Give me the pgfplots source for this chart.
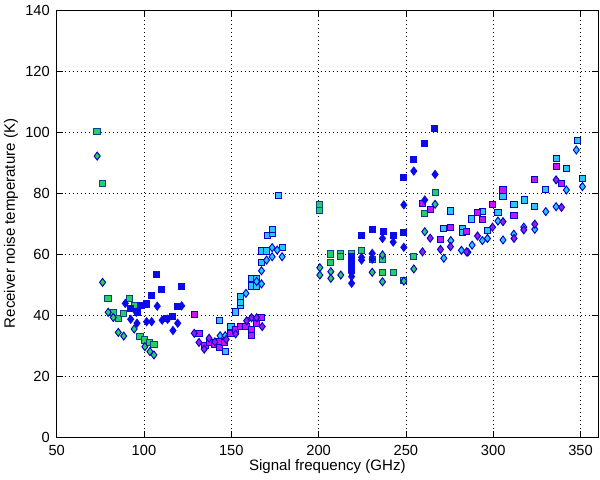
\documentclass[border=0pt]{standalone}
\usepackage{pgfplots}
\pgfplotsset{compat=1.18}
\usepackage{fontspec}
\setmainfont{Liberation Sans}
\definecolor{bfill}{RGB}{10,10,235}
\definecolor{bedge}{RGB}{0,0,200}
\definecolor{cfill}{RGB}{40,200,250}
\definecolor{gfill}{RGB}{40,205,100}
\definecolor{gedge}{RGB}{0,70,140}
\definecolor{mfill}{RGB}{200,20,245}
\definecolor{mdfill}{RGB}{150,30,235}
\begin{document}
\begin{tikzpicture}
\begin{axis}[
  scale only axis, width=406pt, height=320.25pt,
  xmin=50, xmax=360, ymin=0, ymax=140,
  xtick={50,100,...,350}, ytick={0,20,...,140},
  grid=major,
  major grid style={black, line width=0.5pt, dash pattern=on 0.7pt off 2.3pt},
  tick align=inside, major tick length=4.5pt,
  tick style={black, line width=0.6pt},
  axis line style={black, line width=0.6pt},
  /pgf/number format/assume math mode=true,
  tick label style={font=\fontsize{11}{13}\selectfont},
  xticklabel style={inner sep=0pt, yshift=-6pt},
  yticklabel style={inner sep=0pt, xshift=-5pt},
  label style={font=\fontsize{11.3}{13}\selectfont, inner sep=0pt},
  xlabel={Signal frequency (GHz)},
  ylabel={Receiver noise temperature (K)},
  xlabel style={at={(axis description cs:0.5,-0.0775)}, anchor=base},
  ylabel style={at={(axis description cs:-0.0771,0.5)}, anchor=base},
  sq/.style={only marks, mark=square*, mark size=2.3pt},
  di/.style={only marks, mark=diamond*, mark size=3.0pt},
]
\coordinate (sw) at (rel axis cs:0,0);
\coordinate (ne) at (rel axis cs:1,1);
% green squares
\addplot[sq, mark options={fill=gfill, draw=gedge, line width=0.7pt}] coordinates {
(73.1,100.3) (76.3,83.0) (79.4,45.5) (82.4,40.9) (85.5,38.9) (88.5,40.5) (91.6,45.3) (94.8,43.0) (97.7,33.1) (100.5,31.8) (103.0,30.9) (105.7,30.3)
(200.7,76.1) (200.7,74.3) (207.0,60.0) (207.0,57.1) (212.7,60.2) (212.7,59.1) (218.9,60.2) (224.6,61.1) (230.7,58.3) (236.6,58.3) (236.6,54.0) (242.7,54.0) (248.8,51.3) (254.5,59.1) (260.8,73.3) (266.7,80.1)
};
% green diamonds
\addplot[di, mark options={fill=gfill, draw=bedge, line width=0.7pt}] coordinates {
(73.2,92.1) (76.3,50.7) (79.5,40.9) (82.4,39.2) (85.3,34.3) (88.4,33.1) (94.4,35.4) (100.5,29.6) (103.4,28.0) (105.7,26.9)
(200.7,55.5) (200.7,53.1) (207.0,54.2) (207.0,52.0) (212.7,53.1) (230.7,54.0) (236.6,59.7) (236.6,50.9) (248.8,51.1) (254.5,55.1) (260.8,67.3) (266.7,76.3)
};
% cyan squares
\addplot[sq, mark options={fill=cfill, draw=bedge, line width=0.7pt}] coordinates {
(143.3,38.1) (146.9,28.0) (149.8,36.2) (152.5,41.0) (155.5,43.0) (155.5,44.2) (155.5,46.0) (161.6,49.5) (161.6,52.0) (164.5,49.5) (164.5,52.0) (167.3,57.1) (167.3,61.0) (170.2,61.0) (179.1,62.1) (170.5,66.2) (173.6,66.8) (173.6,68.1) (176.8,79.1)
(271.7,68.3) (275.5,74.1) (282.2,68.3) (282.2,67.2) (287.6,71.5) (293.8,73.9) (296.7,67.6) (302.7,73.5) (305.6,78.8) (311.9,76.3) (318.1,77.7) (323.8,75.7) (330.1,81.2) (336.0,91.2) (341.9,88.1) (348.0,97.1) (351.1,84.7)
};
% cyan diamonds
\addplot[di, mark options={fill=cfill, draw=bedge, line width=0.7pt}] coordinates {
(143.6,33.2) (146.5,33.2) (158.4,47.1) (164.5,51.0) (167.3,50.2) (167.3,54.5) (170.2,58.0) (173.4,59.1) (173.4,62.1) (176.3,61.3) (179.1,59.1)
(271.7,58.6) (275.7,64.4) (281.8,61.2) (285.5,60.6) (287.9,62.9) (293.8,64.4) (296.7,65.1) (302.7,70.8) (305.6,64.6) (311.8,66.5) (317.5,68.8) (323.8,68.1) (330.1,73.9) (336.0,75.5) (341.9,81.0) (347.6,94.1) (351.1,82.1)
};
% magenta squares
\addplot[sq, mark options={fill=mfill, draw=bedge, line width=0.7pt}] coordinates {
(128.8,40.1) (131.5,34.0) (134.9,29.9) (137.7,31.0) (140.6,30.3) (143.3,31.4) (143.3,29.3) (146.3,31.1) (149.8,33.9) (152.5,35.1) (155.5,36.2) (158.4,36.2) (161.6,35.1) (161.6,33.2) (164.5,37.3) (167.3,39.1)
(259.5,76.6) (263.9,74.7) (269.8,64.7) (275.7,68.6) (284.9,67.5) (290.8,73.5) (293.8,71.2) (299.6,76.2) (305.6,81.0) (311.9,72.5) (323.8,84.3) (336.0,88.6) (339.1,83.2)
};
% magenta diamonds
\addplot[di, mark options={fill=mdfill, draw=bedge, line width=0.7pt}] coordinates {
(128.8,34.0) (131.5,31.0) (134.5,28.8) (137.3,32.4) (140.6,31.2) (147.1,32.0) (152.5,33.8) (158.8,38.1) (161.6,39.1) (164.5,39.1) (167.7,36.2)
(259.5,60.7) (263.9,65.2) (269.8,61.5) (275.5,62.4) (284.7,60.7) (291.0,65.9) (299.6,68.8) (305.6,70.6) (311.9,65.1) (317.5,67.9) (323.8,69.8) (336.0,84.3) (339.1,75.3)
};
% blue squares
\addplot[sq, mark options={fill=bfill, draw=bfill, line width=0.7pt}] coordinates {
(92.1,42.2) (96.5,41.0) (98.3,43.0) (101.5,43.6) (104.4,46.3) (107.2,53.2) (110.1,48.4) (112.9,38.9) (116.4,39.4) (119.3,42.7) (121.6,49.3)
(218.9,59.3) (218.9,58.0) (218.9,56.4) (218.9,54.8) (224.6,66.1) (230.9,68.0) (237.0,67.5) (242.7,66.1) (248.8,67.2) (248.8,85.1) (254.5,91.1) (260.8,96.1) (266.5,101.2)
};
% blue diamonds
\addplot[di, mark options={fill=bfill, draw=bfill, line width=0.7pt}] coordinates {
(89.3,43.8) (92.4,38.6) (95.6,40.9) (96.0,37.3) (101.5,37.8) (104.4,37.8) (107.6,42.9) (110.4,38.3) (113.5,38.6) (116.6,34.9) (119.3,37.3) (121.6,43.0)
(218.9,53.8) (218.9,52.6) (218.9,50.4) (224.6,58.9) (224.6,58.0) (230.7,60.2) (230.7,58.3) (236.6,65.1) (242.7,63.9) (248.8,76.1) (248.8,62.2) (254.5,87.2) (260.8,77.7) (266.7,86.1)
};
\end{axis}
\pgfresetboundingbox
\path[use as bounding box] ([shift={(-42.5pt,-31.5pt)}]sw) rectangle ([shift={(1.5pt,7.5pt)}]ne);
\end{tikzpicture}
\end{document}
